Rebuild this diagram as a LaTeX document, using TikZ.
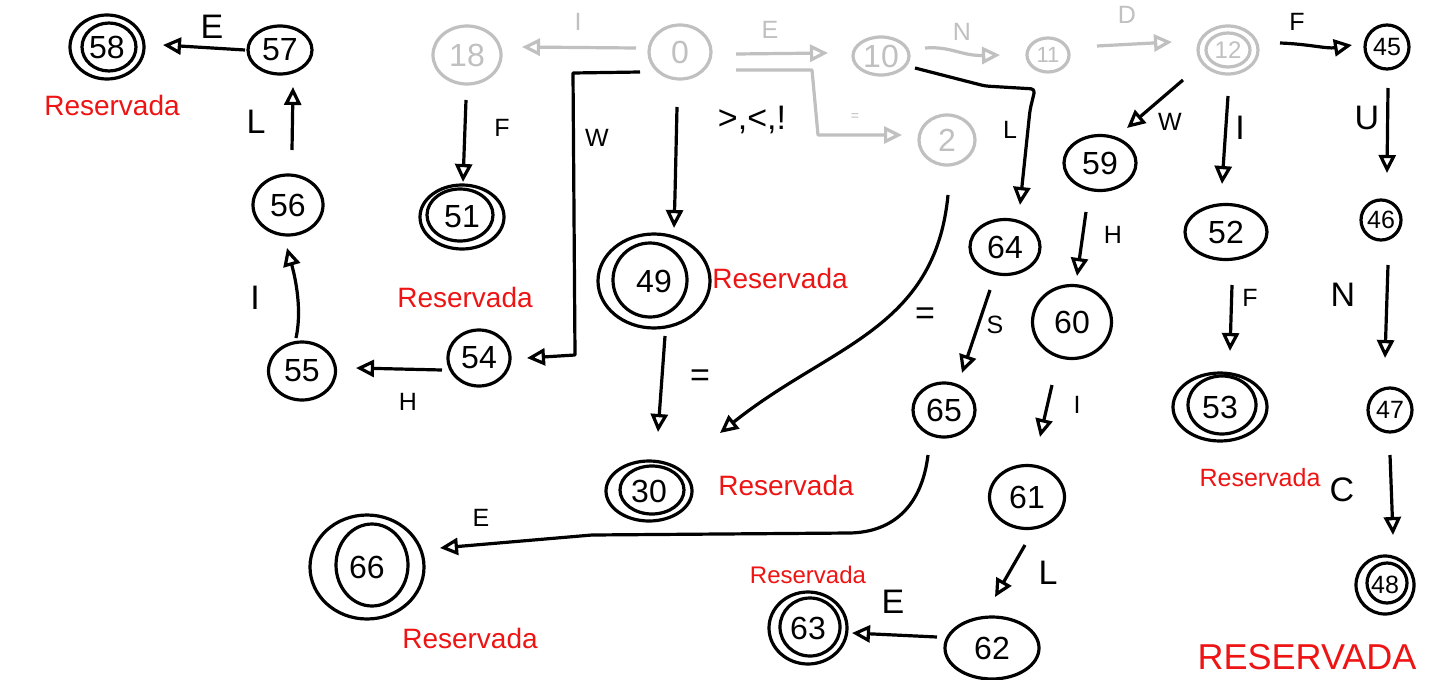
\documentclass[tikz,border=0pt]{standalone}
\usepackage{fontspec}
\setmainfont{Liberation Sans}
\usetikzlibrary{arrows.meta,calc,shapes.geometric}
\definecolor{lg}{RGB}{192,192,192}
\definecolor{rd}{RGB}{238,20,20}
\begin{document}
\begin{tikzpicture}[x=1pt,y=-1pt,
  st/.style={draw=black,line width=3.2pt,ellipse,inner sep=0pt,font=\fontsize{32}{36}\selectfont},
  sst/.style={st,font=\fontsize{25}{28}\selectfont},
  gs/.style={st,draw=lg,text=lg},
  inr/.style={draw=black,line width=3.2pt},
  ginr/.style={draw=lg,line width=3.2pt},
  ar/.style={line width=3.2pt,line join=round,-{Triangle[open,length=18pt,width=17pt]}},
  gar/.style={ar,draw=lg},
  lab/.style={font=\fontsize{34}{38}\selectfont,inner sep=0pt},
  slab/.style={font=\fontsize{25}{28}\selectfont,inner sep=0pt},
  glab/.style={slab,text=lg},
  res/.style={text=rd,font=\fontsize{28}{32}\selectfont,inner sep=0pt}
]
\useasboundingbox[fill=white] (0,0) rectangle (1435,680);

% ---------- grey states ----------
\node[gs,minimum width=68pt,minimum height=58pt] (n18) at (467,55) {18};
\node[gs,minimum width=62pt,minimum height=54pt] (n0) at (680,52) {0};
\node[gs,minimum width=56pt,minimum height=38pt] (n10) at (881,56) {10};
\node[gs,minimum width=42pt,minimum height=34pt,font=\fontsize{22}{26}\selectfont] (n11) at (1048,55) {11};
\node[gs,minimum width=60pt,minimum height=48pt,font=\fontsize{24}{28}\selectfont] (n12) at (1228,50) {12};
\draw[ginr] (n12) ellipse [x radius=22pt,y radius=17pt];
\node[gs,minimum width=56pt,minimum height=50pt] (n2) at (947,140) {2};

% ---------- black states ----------
\node[st,minimum width=74pt,minimum height=64pt] (n58) at (107,47) {58};
\draw[inr] ($(n58)+(2,0)$) ellipse [x radius=27pt,y radius=24pt];
\node[st,minimum width=64pt,minimum height=48pt] (n57) at (280,50) {57};
\node[sst,minimum width=44pt,minimum height=44pt] (n45) at (1387,47) {45};
\node[st,minimum width=70pt,minimum height=60pt] (n56) at (288,205) {56};
\node[st,minimum width=84pt,minimum height=64pt] (n51) at (462,217) {51};
\draw[inr] ($(n51)+(-2,-2)$) ellipse [x radius=33pt,y radius=26pt];
\node[st,minimum width=112pt,minimum height=94pt] (n49) at (654,281) {49};
\draw[inr] ($(n49)+(-4,-1)$) ellipse [x radius=37pt,y radius=37pt];
\node[st,minimum width=72pt,minimum height=55pt] (n59) at (1100,163) {59};
\node[st,minimum width=82pt,minimum height=55pt] (n52) at (1226,232) {52};
\node[sst,minimum width=40pt,minimum height=40pt] (n46) at (1381,220) {46};
\node[st,minimum width=70pt,minimum height=55pt] (n64) at (1005,247) {64};
\node[st,minimum width=79pt,minimum height=73pt] (n60) at (1072,322) {60};
\node[st,minimum width=62pt,minimum height=56pt] (n54) at (479,358) {54};
\node[st,minimum width=67pt,minimum height=58pt] (n55) at (302,371) {55};
\node[st,minimum width=62pt,minimum height=54pt] (n65) at (944,410) {65};
\node[st,minimum width=94pt,minimum height=68pt] (n53) at (1220,407) {53};
\draw[inr] ($(n53)+(2,-2)$) ellipse [x radius=34pt,y radius=29pt];
\node[sst,minimum width=44pt,minimum height=44pt] (n47) at (1390,410) {47};
\node[st,minimum width=86pt,minimum height=60pt] (n30) at (649,491) {30};
\draw[inr] ($(n30)+(3,-1)$) ellipse [x radius=32pt,y radius=24pt];
\node[st,minimum width=75pt,minimum height=63pt] (n61) at (1027,497) {61};
\node[sst,minimum width=58pt,minimum height=58pt] (n48) at (1385,585) {48};
\draw[inr] ($(n48)+(2,-2)$) ellipse [x radius=20pt,y radius=20pt];
\node[st,minimum width=114pt,minimum height=104pt] (n66) at (367,567) {66};
\draw[inr] ($(n66)+(5,-2)$) ellipse [x radius=36pt,y radius=41pt];
\node[st,minimum width=78pt,minimum height=72pt] (n63) at (808,628) {63};
\draw[inr] ($(n63)+(2,-1)$) ellipse [x radius=30pt,y radius=29pt];
\node[st,minimum width=94pt,minimum height=62pt] (n62) at (992,648) {62};

% ---------- grey connectors ----------
\draw[gar] ($(n0)+(-44,-4)$) -- ($(n18)+(55,-8)$);
\draw[gar] ($(n0)+(56,2)$) -- ($(n10)+(-53,-3)$);
\draw[gar] ($(n0)+(56,18)$) -- ($(n0)+(132,18)$) -- ($(n2)+(-129,-5)$) -- ($(n2)+(-45,-5)$);
\draw[gar] ($(n10)+(44,-8)$) .. controls ($(n10)+(70,-10)$) and ($(n10)+(80,0)$) .. ($(n11)+(-48,0)$);
\draw[gar] ($(n11)+(49,-9)$) -- ($(n12)+(-56,-8)$);

% ---------- black connectors ----------
\draw[ar] ($(n57)+(-35,0)$) -- ($(n58)+(56,-2)$);
\draw[ar] ($(n56)+(4,-55)$) -- ($(n57)+(13,37)$);
\draw[ar] ($(n55)+(-6,-33)$) .. controls ($(n55)+(0,-60)$) and ($(n56)+(8,75)$) .. ($(n56)+(-1,43)$);
\draw[ar] ($(n54)+(-37,12)$) -- ($(n55)+(54,-3)$);
\draw[ar] ($(n0)+(-40,20)$) -- ($(n0)+(-107,21)$) -- ($(n54)+(96,-3)$) -- ($(n54)+(48,0)$);
\draw[ar] ($(n18)+(-1,45)$) -- ($(n51)+(1,-35)$);
\draw[ar] ($(n0)+(-3,55)$) -- ($(n49)+(21,-86)$) -- ($(n49)+(20,-53)$);
\draw[ar] ($(n12)+(52,-7)$) .. controls ($(n12)+(80,-6)$) and ($(n45)+(-60,2)$) .. ($(n45)+(-35,-2)$);
\draw[ar,rounded corners=4pt] ($(n10)+(34,12)$) -- ($(n10)+(104,30)$) -- ($(n64)+(30,-158)$) -- ($(n64)+(25,-137)$) -- ($(n64)+(15,-42)$);
\draw[ar] ($(n12)+(-45,30)$) -- ($(n59)+(27,-35)$);
\draw[ar] ($(n12)+(0,46)$) -- ($(n52)+(-4,-48)$);
\draw[ar] ($(n45)+(1,41)$) -- ($(n46)+(6,-47)$);
\draw[ar] ($(n46)+(7,45)$) -- ($(n47)+(-5,-52)$);
\draw[ar] ($(n47)+(0,45)$) -- ($(n48)+(8,-50)$);
\draw[ar] ($(n59)+(-14,49)$) -- ($(n60)+(5,-46)$);
\draw[ar] ($(n52)+(6,53)$) -- ($(n53)+(10,-56)$);
\draw[ar] ($(n64)+(-15,43)$) -- ($(n65)+(18,-37)$);
\draw[ar] ($(n60)+(-20,63)$) -- ($(n61)+(13,-60)$);
\draw[ar] ($(n61)+(-2,48)$) -- ($(n62)+(3,-51)$);
\draw[ar] ($(n62)+(-55,-11)$) -- ($(n63)+(44,5)$);
\draw[ar] ($(n65)+(-16,45)$) .. controls ($(n65)+(-22,95)$) and ($(n65)+(-50,122)$) .. ($(n65)+(-94,123)$) -- ($(n66)+(225,-32)$) -- ($(n66)+(73,-19)$);
\draw[ar] ($(n2)+(1,55)$) .. controls ($(n2)+(-12,190)$) and ($(n30)+(181,-146)$) .. ($(n30)+(71,-58)$);
\draw[ar] ($(n49)+(11,55)$) -- ($(n30)+(9,-59)$);

% ---------- labels ----------
\node[glab] (lI0) at (578,22) {I};
\node[glab] (lE0) at (770,30) {E};
\node[glab,font=\fontsize{14}{16}\selectfont] (lEq0) at (855,117) {=};
\node[glab] (lN0) at (962,32) {N};
\node[glab] (lD0) at (1127,15) {D};

\node[lab] (lE1) at (212,27) {E};
\node[lab] (lL1) at (256,122) {L};
\node[lab] (lI1) at (255,298) {I};
\node[slab] (lH1) at (408,402) {H};
\node[slab] (lW1) at (597,138) {W};
\node[slab] (lF1) at (502,128) {F};
\node[lab] (lOps) at (752,120) {>,<,!};
\node[slab] (lF2) at (1297,22) {F};
\node[slab] (lL2) at (1010,130) {L};
\node[slab] (lW2) at (1170,122) {W};
\node[lab] (lI2) at (1240,128) {I};
\node[lab] (lU) at (1367,118) {U};
\node[slab] (lH2) at (1113,235) {H};
\node[slab] (lF3) at (1250,298) {F};
\node[lab] (lN1) at (1343,295) {N};
\node[slab] (lS) at (995,325) {S};
\node[slab] (lI3) at (1077,405) {I};
\node[lab] (lC) at (1342,490) {C};
\node[lab] (lL3) at (1048,573) {L};
\node[lab] (lE2) at (893,602) {E};
\node[slab] (lE3) at (481,518) {E};
\node[lab] (lEq1) at (925,316) {=};
\node[lab] (lEq2) at (700,378) {=};

% ---------- reserved notes ----------
\node[res] (r58) at (112,105) {Reservada};
\node[res] (r51) at (465,297) {Reservada};
\node[res] (r49) at (780,278) {Reservada};
\node[res] (r30) at (786,485) {Reservada};
\node[res,font=\fontsize{25}{28}\selectfont] (r53) at (1260,478) {Reservada};
\node[res,font=\fontsize{24}{28}\selectfont] (r63) at (808,575) {Reservada};
\node[res] (r66) at (470,638) {Reservada};
\node[res,font=\fontsize{36}{40}\selectfont] (r48) at (1307,657) {RESERVADA};
\end{tikzpicture}
\end{document}
